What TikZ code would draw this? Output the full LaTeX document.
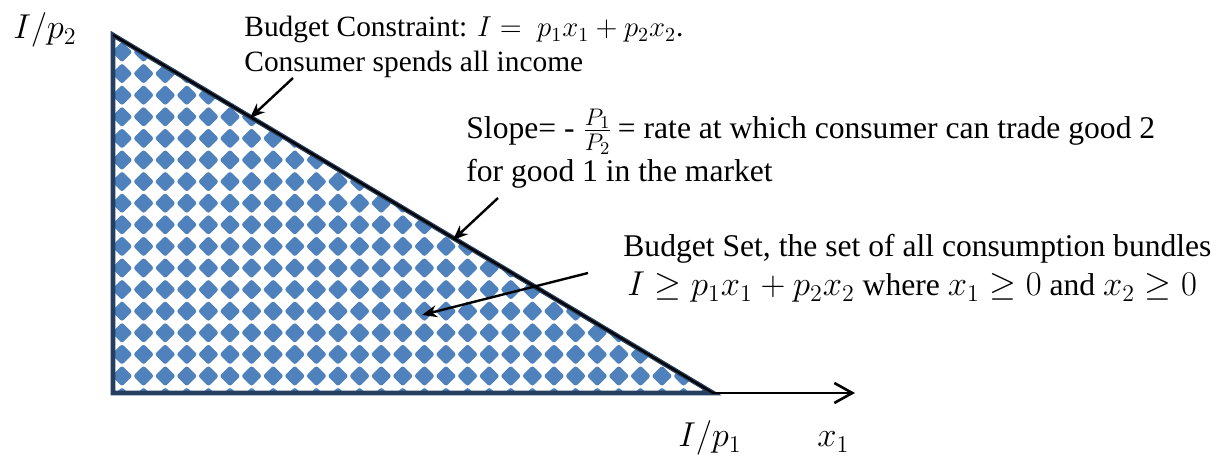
\documentclass[tikz,border=0pt]{standalone}
\usepackage{fontspec}
\setmainfont{Liberation Serif}
\usetikzlibrary{arrows.meta}
\definecolor{diam}{HTML}{4F81BD}
\definecolor{navy}{HTML}{243F60}
\newcommand{\bigmath}[1]{{\fontsize{17.2}{18}\selectfont$#1$}}
\tikzset{
  lbl/.style={anchor=base west, inner sep=0pt, font=\fontsize{15.8}{18}\selectfont},
  lblsmall/.style={anchor=base west, inner sep=0pt, font=\fontsize{14.7}{17}\selectfont},
  axlbl/.style={anchor=base west, inner sep=0pt, font=\fontsize{17.5}{18}\selectfont},
  callout/.style={line width=1.2pt, -{Stealth[length=7.5pt,width=6pt]}},
  axis/.style={line width=1.3pt, -{Straight Barb[length=9pt,width=10pt,line width=1.3pt]}},
  diamond fill/.style={fill=diam, rounded corners=1.2pt}
}
\begin{document}
\begin{tikzpicture}[x=0.5pt,y=-0.5pt]
\useasboundingbox (0,0) rectangle (1222,458);
\coordinate (top) at (113,35);
\coordinate (orig) at (113,393);
\coordinate (xint) at (713,393);
\coordinate (xend) at (855,393);
% pattern
\begin{scope}
  \clip (top) -- (orig) -- (xint) -- cycle;
  \foreach \r in {0,...,16} {
    \foreach \c in {0,...,28} {
      \fill[diamond fill] (122+21.6*\c, 52+21.6*\r) +(10.4,0) -- +(0,10.4) -- +(-10.4,0) -- +(0,-10.4) -- cycle;
    }
  }
\end{scope}
% triangle border
\draw[navy, line width=2.4pt, line join=miter] (top) -- (orig) -- (xint) -- cycle;
\draw[black, line width=1.1pt] (top) -- (xint);
% axis
\draw[axis] (xint) -- (xend);
% labels
\node[axlbl] (yl) at (13,39) {$I/p_2$};
\node[axlbl] (xl1) at (678,447) {$I/p_1$};
\node[axlbl] (xl2) at (817,447) {$x_1$};
\node[lblsmall] (bc1) at (244,37) {Budget Constraint: $I =\ p_1x_1 + p_2x_2$.};
\node[lblsmall] (bc2) at (244,72) {Consumer spends all income};
\node[lbl] (sl1) at (466,139) {Slope= - \bigmath{\frac{P_1}{P_2}}\,= rate at which consumer can trade good 2};
\node[lbl] (sl2) at (466,182) {for good 1 in the market};
\node[lbl] (bs1) at (623,257) {Budget Set, the set of all consumption bundles};
\node[lbl] (bs2) at (627,296) {\bigmath{I \geq p_1x_1 + p_2x_2} where \bigmath{x_1 \geq 0} and \bigmath{x_2 \geq 0}};
% callouts
\coordinate (a1s) at (293,78);
\coordinate (a1e) at (250,118);
\coordinate (a2s) at (498,198);
\coordinate (a2e) at (453,240);
\coordinate (a3s) at (588,273);
\coordinate (a3e) at (422,315);
\draw[callout] (a1s) -- (a1e);
\draw[callout] (a2s) -- (a2e);
\draw[callout] (a3s) -- (a3e);
\end{tikzpicture}
\end{document}
